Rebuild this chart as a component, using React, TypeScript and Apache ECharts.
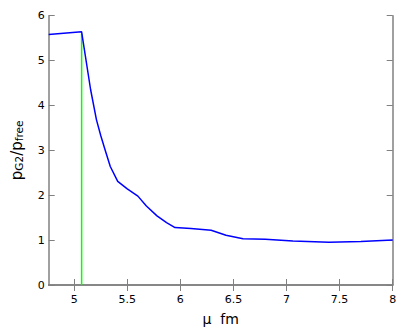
import React, { useEffect, useRef } from "react";
import * as echarts from "echarts";

const mu = [4.76, 5.07, 5.155, 5.21, 5.25, 5.29, 5.34, 5.41, 5.50, 5.60, 5.68, 5.78, 5.87, 5.95, 6.1, 6.29, 6.43, 6.59, 6.8, 7.06, 7.4, 7.7, 8.0];
const ratio = [5.58, 5.64, 4.35, 3.68, 3.33, 3.02, 2.64, 2.31, 2.14, 1.98, 1.76, 1.54, 1.39, 1.28, 1.26, 1.22, 1.11, 1.03, 1.02, 0.98, 0.955, 0.97, 1.0];
const markerX = [5.07, 5.07];
const markerY = [0, 5.6];
const xTicks = [5, 5.5, 6, 6.5, 7, 7.5, 8];

const FONT = "DejaVu Sans";
const FRAME = "#808080";

export default function App() {
  const ref = useRef<HTMLDivElement>(null);
  useEffect(() => {
    const chart = echarts.init(ref.current!, undefined, { renderer: "svg" });
    const tickStyle = { show: true, inside: true, length: 6, lineStyle: { color: FRAME, width: 1 } };
    const lineStyle = { show: true, lineStyle: { color: FRAME, width: 1.5 } };
    chart.setOption({
      animation: false,
      backgroundColor: "#ffffff",
      grid: { left: 48.7, right: 22.3, top: 15.7, bottom: 45.3, containLabel: false },
      xAxis: [
        {
          type: "value",
          min: 4.76,
          max: 8,
          position: "bottom",
          axisLine: lineStyle,
          axisTick: { ...tickStyle, customValues: xTicks },
          axisLabel: { customValues: xTicks, fontFamily: FONT, fontSize: 11, color: "#000", margin: 9 },
          splitLine: { show: false },
          name: "μ  fm",
          nameLocation: "middle",
          nameGap: 27,
          nameTextStyle: { fontFamily: FONT, fontSize: 14, color: "#000" },
        },
        {
          type: "value",
          min: 4.76,
          max: 8,
          position: "top",
          axisLine: lineStyle,
          axisTick: { ...tickStyle, customValues: xTicks },
          axisLabel: { show: false },
          splitLine: { show: false },
        },
      ],
      yAxis: [
        {
          type: "value",
          min: 0,
          max: 6,
          interval: 1,
          position: "left",
          axisLine: lineStyle,
          axisTick: tickStyle,
          axisLabel: { fontFamily: FONT, fontSize: 11, color: "#000", margin: 4 },
          splitLine: { show: false },
          name: "{p|p}{s|G2}{p|/p}{s|free}",
          nameLocation: "middle",
          nameGap: 24,
          nameTextStyle: {
            fontFamily: FONT,
            color: "#000",
            rich: {
              p: { fontFamily: FONT, fontSize: 15, color: "#000", verticalAlign: "top" },
              s: { fontFamily: FONT, fontSize: 10.5, color: "#000", verticalAlign: "bottom" },
            },
          },
        },
        {
          type: "value",
          min: 0,
          max: 6,
          interval: 1,
          position: "right",
          axisLine: lineStyle,
          axisTick: tickStyle,
          axisLabel: { show: false },
          splitLine: { show: false },
        },
      ],
      series: [
        {
          type: "line",
          data: markerX.map((x, i) => [x, markerY[i]]),
          showSymbol: false,
          lineStyle: { color: "#00ff00", width: 1.5 },
          z: 2,
        },
        {
          type: "line",
          data: mu.map((x, i) => [x, ratio[i]]),
          showSymbol: false,
          lineStyle: { color: "#0000ff", width: 1.5 },
          z: 3,
        },
      ],
    });
    return () => chart.dispose();
  }, []);
  return <div ref={ref} style={{ position: "absolute", left: 0, top: 0, width: 415, height: 331 }} />;
}
